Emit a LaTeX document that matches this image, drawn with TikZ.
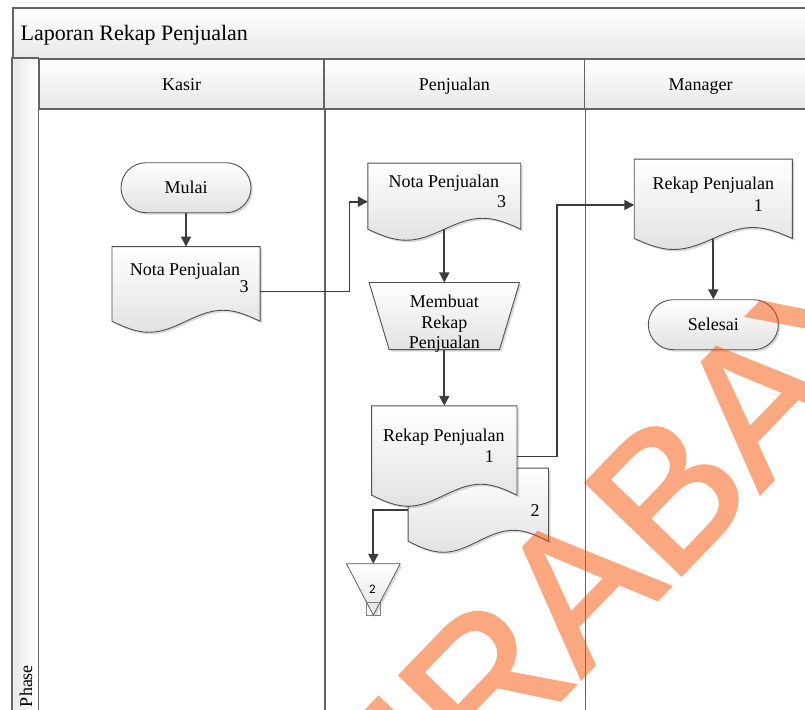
\documentclass[tikz,border=0pt]{standalone}
\usepackage{fontspec}
\setmainfont{Liberation Serif}
\newfontfamily\wmfont[FakeBold=1.5]{Liberation Sans}
\newfontfamily\calfont{Carlito}
\usetikzlibrary{arrows.meta,calc,shapes.misc,shadows}

\definecolor{framegray}{RGB}{100,100,100}
\definecolor{linegray}{RGB}{60,60,60}
\definecolor{shapeline}{RGB}{80,80,80}
\definecolor{bandgray}{RGB}{232,232,232}
\definecolor{fillgray}{RGB}{226,226,226}
\definecolor{wmorange}{RGB}{249,81,1}

\pgfdeclarelayer{lanes}
\pgfdeclarelayer{shapes}
\pgfsetlayers{lanes,shapes,main}

\tikzset{
  band/.style={draw=framegray, line width=1.6pt, top color=white, bottom color=bandgray, inner sep=0pt},
  divider/.style={draw=framegray, line width=1.4pt},
  box/.style 2 args={inner sep=0pt, minimum width=#1pt, minimum height=#2pt},
  shapebody/.style={draw=shapeline, line width=0.9pt, top color=white, bottom color=fillgray,
    drop shadow={shadow xshift=2pt, shadow yshift=-2pt, opacity=0.15, fill=black}},
  txt/.style={inner sep=0pt, font=\fontsize{18}{18}\selectfont, text height=12pt, text depth=0pt},
  hdr/.style={band, font=\fontsize{18}{18}\selectfont, text height=12pt, text depth=0pt},
  terminal/.style={rounded rectangle, shapebody, minimum width=130pt, minimum height=50pt,
    inner sep=0pt, font=\fontsize{18}{18}\selectfont, text height=12pt, text depth=0pt},
  conn/.style={draw=linegray, line width=1.8pt, -{Triangle[length=10pt,width=10pt]}},
  wmark/.style={inner sep=0pt, text=wmorange,
    font=\wmfont\fontsize{193}{193}\selectfont},
}

% document symbol: flat top, straight sides, sine-wave bottom edge
\newcommand\docoutline[2][11]{%
  \begin{pgfonlayer}{shapes}
  \path[shapebody] let \p1=(#2.south west), \p2=(#2.south east), \n1={(\x2-\x1)/4} in
    (#2.north west) -- (#2.north east) -- (\p2)
    sin ++(-\n1,#1pt) cos ++(-\n1,-#1pt) sin ++(-\n1,-#1pt) cos ++(-\n1,#1pt) -- cycle;
  \end{pgfonlayer}}

\begin{document}
\begin{tikzpicture}[x=1pt,y=-1pt]
\useasboundingbox (0,0) rectangle (805,709);

% swimlane frame
\begin{pgfonlayer}{lanes}
  \fill[white] (0,0) rectangle (805,709);
  \node[band, box={804}{50.8}, anchor=north west] (titleband) at (12,7.5) {};
  \path[draw=framegray, line width=1.6pt, left color=bandgray, right color=white]
    (12,58.3) rectangle (38.3,740);
  \node[hdr, box={285}{50}, anchor=north west] (kasir) at (38.3,58.3) {Kasir};
  \node[hdr, box={260.4}{50}, anchor=north west] (penjualan) at (323.3,58.3) {Penjualan};
  \node[hdr, box={232.3}{50}, anchor=north west] (manager) at (583.7,58.3) {Manager};
  \draw[divider] (kasir.south east) -- ++(0,-640pt);
  \draw[divider] (penjualan.south east) -- ++(0,-640pt);
\end{pgfonlayer}
\node[inner sep=0pt, font=\fontsize{22}{22}\selectfont, anchor=base west] (title) at (20.5,40.5) {Laporan Rekap Penjualan};
\node[txt, rotate=90] (phase) at (26,686) {Phase};

% Kasir
\node[terminal] (mulai) at (186,187.7) {Mulai};
\node[box={147.7}{74.3}] (notaK) at (186,283.9) {};
\docoutline{notaK}
\node[txt] (notaKt) at (185,269) {Nota Penjualan};
\node[txt] (notaKn) at (244,286) {3};

% Penjualan
\node[box={152.4}{65.7}] (notaP) at (444.3,196.2) {};
\docoutline{notaP}
\node[txt] (notaPt) at (443.8,181.7) {Nota Penjualan};
\node[txt] (notaPn) at (501.7,201.7) {3};

\node[box={150}{66.7}] (trap) at (444.3,316) {};
\begin{pgfonlayer}{shapes}
  \path[shapebody] (trap.north west) -- (trap.north east) -- ([xshift=-20pt]trap.south east)
    -- ([xshift=20pt]trap.south west) -- cycle;
\end{pgfonlayer}
\node[inner sep=0pt, align=center, font=\fontsize{18}{20.5}\selectfont] (trapt) at (444.3,324) {Membuat\\Rekap\\Penjualan};

\node[box={140}{72.7}] (rekap2) at (478.3,504.7) {};
\docoutline{rekap2}
\node[box={145}{89}] (rekap1) at (444.3,450.5) {};
\docoutline{rekap1}
\node[txt] (rekap1t) at (443.8,435) {Rekap Penjualan};
\node[txt] (rekap1n) at (489.3,456.7) {1};
\node[txt] (rekap2n) at (535,510) {2};

% off-page connector
\node[box={53.3}{51}] (off) at (373.3,589.5) {};
\begin{pgfonlayer}{shapes}
  \path[shapebody, line width=0.7pt] (off.north west) -- (off.north east) -- (off.south) -- cycle;
\end{pgfonlayer}
\draw[draw=gray, line width=0.6pt] ([xshift=-6.7pt]off.south) rectangle ([xshift=6.7pt,yshift=13.3pt]off.south);
\node[inner sep=0pt, font=\calfont\fontsize{13}{13}\selectfont] (offt) at (372.3,589.3) {2};

% Manager
\node[box={157.7}{79}] (mgr) at (713.3,198.8) {};
\docoutline{mgr}
\node[txt] (mgrt) at (713.3,183.3) {Rekap Penjualan};
\node[txt] (mgrn) at (758.3,205) {1};
\node[terminal] (selesai) at (713.3,324.7) {Selesai};

% flow
\coordinate (k0) at (0,291.5);
\coordinate (k1) at (349.5,201.7);
\coordinate (r0) at (0,456.5);
\coordinate (m1) at (556.7,205);
\coordinate (b0) at (0,510);
\draw[conn] (mulai) -- (notaK);
\draw[conn] (notaK.east |- k0) -| (k1) -- (notaP.west |- k1);
\draw[conn] (notaP.south) -- (trap.north);
\draw[conn] (trap.south) -- (rekap1.north);
\draw[conn] (rekap1.east |- r0) -| (m1) -- (mgr.west |- m1);
\draw[conn] (mgr.south) -- (selesai.north);
\draw[conn] (rekap2.west |- b0) -| (off.north);

% watermark, composited as one semi-transparent group
\begin{scope}[transparency group, opacity=0.5]
  \clip (0,0) rectangle (805,709);
  \node[wmark, rotate=46, anchor=base west] (wm) at (298,972) {SURABAYA};
\end{scope}
\end{tikzpicture}
\end{document}
